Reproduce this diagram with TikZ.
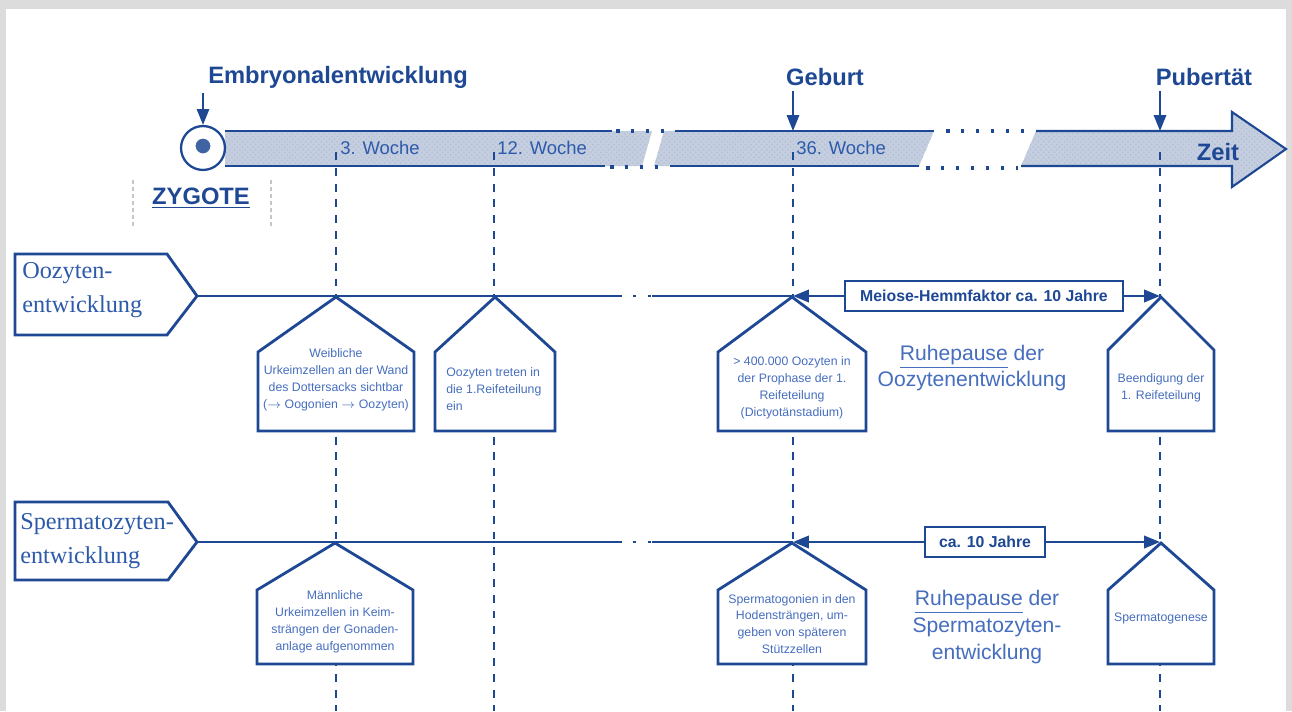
\documentclass[tikz,border=0pt]{standalone}
\usepackage{fontspec}
\setmainfont{Liberation Sans}
\newfontfamily\reihenschrift{Liberation Serif}
\usepackage{tikz}
\usetikzlibrary{positioning,arrows.meta,patterns}
\definecolor{dunkelblau}{RGB}{30,72,148}
\definecolor{mittelblau}{RGB}{45,90,170}
\definecolor{hellblau}{RGB}{70,110,190}
\definecolor{bandgrau}{RGB}{196,206,222}
\definecolor{rahmengrau}{RGB}{220,220,220}

\tikzset{
  linie/.style={draw=dunkelblau, line width=1.4pt},
  hauslinie/.style={draw=dunkelblau, line width=1.6pt, fill=white},
  zeitstrich/.style={draw=dunkelblau, line width=1.1pt, dash pattern=on 4.5pt off 4.5pt},
  punkte/.style={draw=dunkelblau, line width=2pt, dash pattern=on 2pt off 6.5pt},
  band/.style={fill=bandgrau, postaction={pattern=crosshatch dots, pattern color=dunkelblau!35}},
  pfeil/.style={draw=dunkelblau, line width=1pt, -{Triangle[length=9pt, width=7pt]}},
  titel/.style={text=dunkelblau, font=\bfseries\fontsize{13.5}{16}\selectfont, inner sep=0pt, outer sep=3pt},
  woche/.style={text=mittelblau, font=\fontsize{10.5}{12}\selectfont, anchor=west, inner sep=0pt},
  haustext/.style={text=hellblau, font=\fontsize{7}{9.6}\selectfont, align=center, inner sep=0pt},
  reihe/.style={text=mittelblau, font=\reihenschrift\fontsize{13.8}{19}\selectfont, align=left, anchor=west, inner sep=0pt},
  ruhe/.style={text=hellblau, font=\fontsize{12}{15.3}\selectfont, align=center, inner sep=0pt},
  jahrbox/.style={draw=dunkelblau, line width=1pt, fill=white, text=dunkelblau, font=\bfseries\fontsize{9}{11}\selectfont, minimum height=17pt, inner xsep=0pt},
}

\begin{document}
\begin{tikzpicture}[x=0.02cm, y=-0.02cm]
\useasboundingbox (0,0) rectangle (1292,711);
\fill[rahmengrau] (0,0) rectangle (1292,711);
\fill[white] (6,9) rectangle (1286,711);

% Zeitband mit Luecken
\path[band] (225,131) -- (652,131) -- (642,166) -- (225,166) -- cycle;
\path[band] (664,131) -- (934,131) -- (919,166) -- (654,166) -- cycle;
\path[band] (1036,131) -- (1232,131) -- (1232,112) -- (1286,149) -- (1232,187) -- (1232,166) -- (1021,166) -- cycle;
\draw[linie, line width=1.2pt] (225,131) -- (612,131) (675,131) -- (934,131);
\draw[linie, line width=1.2pt] (225,166) -- (605,166) (670,166) -- (919,166);
\draw[linie, line width=1.2pt] (1036,131) -- (1232,131) -- (1232,112) -- (1286,149) -- (1232,187) -- (1232,166) -- (1021,166);
\draw[punkte] (616,131) -- (672,131) (946,131) -- (1034,131);
\draw[punkte] (610,167) -- (668,167) (926,168) -- (1018,168);

% Zygote
\node[circle, draw=dunkelblau, line width=1.3pt, fill=white, minimum size=25pt, inner sep=0pt] (zygote) at (203,148) {};
\node[circle, fill=dunkelblau!85, draw=white, line width=0.5pt, minimum size=9pt, inner sep=0pt] (kern) at (203,146) {};
\node[titel] (zygtext) at (201,198) {\underline{ZYGOTE}};
\draw[gray!45, line width=0.8pt, dash pattern=on 2pt off 2pt] (133,180) -- (133,226) (271,180) -- (271,226);

% Ueberschriften
\node[titel, anchor=west] (embryo) at (203,77) {Embryonalentwicklung};
\node[titel] (geburt) at (825,77) {Geburt};
\node[titel] (pubertaet) at (1204,77) {Pubertät};
\coordinate (g36) at (793,131);
\coordinate (gpub) at (1160,131);
\draw[pfeil] (embryo.south -| zygote.north) -- (zygote.north);
\draw[pfeil] (geburt.south -| g36) -- (g36);
\draw[pfeil] (pubertaet.south -| gpub) -- (gpub);

\node[woche] (w3) at (340,148) {3. Woche};
\node[woche] (w12) at (497,148) {12. Woche};
\node[woche] (w36) at (796,148) {36. Woche};
\node[titel] (zeit) at (1218,152) {Zeit};

% Zeitstriche
\foreach \x in {336,494,793,1160}
  \draw[zeitstrich] (\x,152) -- (\x,711);

% Reihen
\draw[hauslinie] (15,254) -- (167,254) -- (197,296) -- (167,335) -- (15,335) -- cycle;
\node[reihe] (oozyt) at (22,290) {Oozyten-\\entwicklung};
\draw[hauslinie] (15,502) -- (168,502) -- (197,542) -- (168,580) -- (15,580) -- cycle;
\node[reihe] (sperm) at (20,541) {Spermatozyten-\\entwicklung};

\coordinate (o0) at (197,296);
\coordinate (o1) at (618,296);
\coordinate (o2) at (652,296);
\coordinate (o36) at (793,296);
\coordinate (opub) at (1160,296);
\coordinate (s0) at (197,542);
\coordinate (s1) at (618,542);
\coordinate (s2) at (652,542);
\coordinate (s36) at (793,542);
\coordinate (spub) at (1160,542);
\draw[linie] (o0) -- (o1) (o2) -- (o36);
\draw[linie] (s0) -- (s1) (s2) -- (s36);
\draw[punkte, line width=1.6pt] (o1) -- (o2) (s1) -- (s2);

% Haeuser
\foreach \hx/\hw/\ha/\hs/\hb in {336/78/297/352/431, 495/60/297/352/431, 792/74/297/352/431, 1161/53/297/350/431, 335/78/543/590/664, 792/74/543/590/664, 1161/53/543/590/664}
  \draw[hauslinie] (\hx,\ha) -- (\hx+\hw,\hs) -- (\hx+\hw,\hb) -- (\hx-\hw,\hb) -- (\hx-\hw,\hs) -- cycle;

\node[haustext] (t1) at (336,380) {Weibliche\\Urkeimzellen an der Wand\\des Dottersacks sichtbar\\($\rightarrow$ Oogonien $\rightarrow$ Oozyten)};
\node[haustext, align=left, anchor=west] (t2) at (446,389) {Oozyten treten in\\die 1.Reifeteilung\\ein};
\node[haustext] (t3) at (792,388) {> 400.000 Oozyten in\\der Prophase der 1.\\Reifeteilung\\(Dictyotänstadium)};
\node[haustext] (t4) at (1161,388) {Beendigung der\\1. Reifeteilung};
\node[haustext] (t5) at (335,622) {Männliche\\Urkeimzellen in Keim-\\strängen der Gonaden-\\anlage aufgenommen};
\node[haustext] (t6) at (792,624) {Spermatogonien in den\\Hodensträngen, um-\\geben von späteren\\Stützzellen};
\node[haustext] (t7) at (1161,618) {Spermatogenese};

% Ruhepausen
\node[jahrbox, minimum width=158pt] (meiose) at (984,296) {Meiose-Hemmfaktor ca. 10 Jahre};
\draw[pfeil, line width=1.4pt] (meiose.west) -- (o36);
\draw[pfeil, line width=1.4pt] (meiose.east) -- (opub);
\node[jahrbox, minimum width=68pt] (jahre) at (985,542) {ca. 10 Jahre};
\draw[pfeil, line width=1.4pt] (jahre.west) -- (s36);
\draw[pfeil, line width=1.4pt] (jahre.east) -- (spub);

\node[ruhe] (ruhe1) at (972,368) {\underline{Ruhepause} der\\Oozytenentwicklung};
\node[ruhe] (ruhe2) at (987,627) {\underline{Ruhepause} der\\Spermatozyten-\\entwicklung};
\end{tikzpicture}
\end{document}
